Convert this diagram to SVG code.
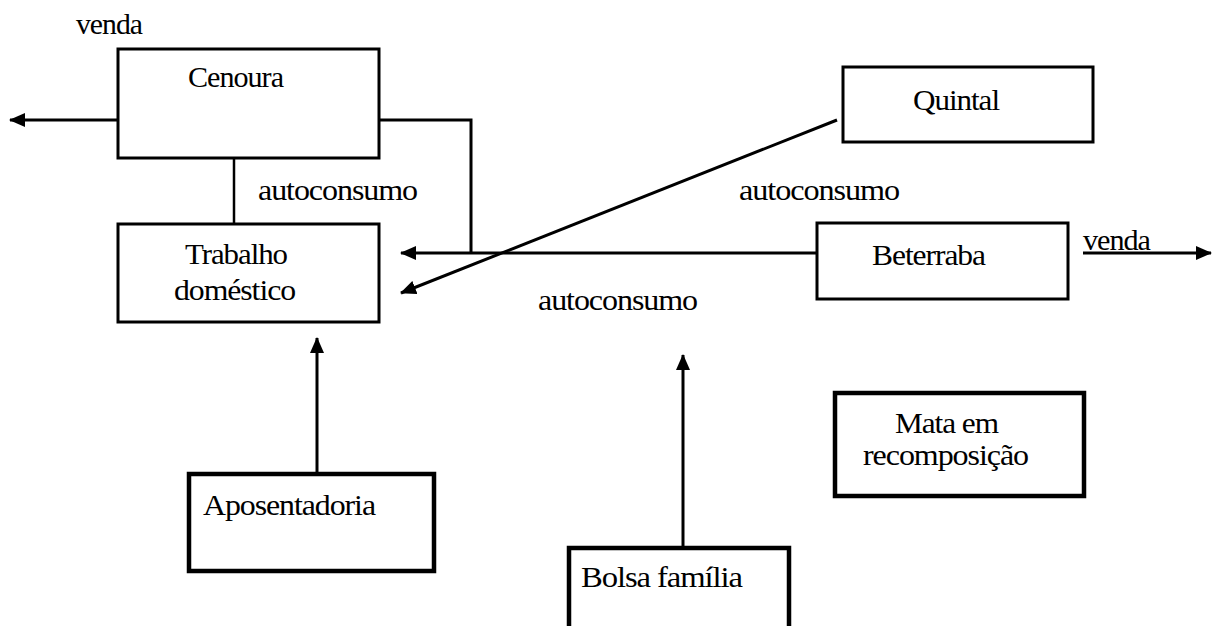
<svg xmlns="http://www.w3.org/2000/svg" width="1212" height="626" viewBox="0 0 1212 626">
<style>
text{font-family:"Liberation Serif","Times New Roman",serif;font-size:30px;fill:#000;letter-spacing:-1px}
.box{fill:#fff;stroke:#000;stroke-width:3}
.thick{stroke-width:4.5}
.conn{fill:none;stroke:#000;stroke-width:3}
</style>
<defs>
<marker id="ah" viewBox="0 0 16 14" refX="15" refY="7" markerWidth="16" markerHeight="14" markerUnits="userSpaceOnUse" orient="auto">
<path d="M0,0 L16,7 L0,14 Z" fill="#000"/>
</marker>
</defs>
<rect width="1212" height="626" fill="#fff"/>
<g id="connectors">
<line class="conn" x1="118" y1="120" x2="10" y2="120" marker-end="url(#ah)"/>
<line class="conn" x1="234" y1="158" x2="234" y2="224" style="stroke-width:2.5"/>
<polyline class="conn" points="379,120 471,120 471,253"/>
<line class="conn" x1="817" y1="253" x2="401" y2="253" marker-end="url(#ah)"/>
<line class="conn" x1="837" y1="120" x2="401" y2="293" marker-end="url(#ah)"/>
<line class="conn" x1="1083" y1="253" x2="1211" y2="253" marker-end="url(#ah)"/>
<line class="conn" x1="317" y1="474" x2="317" y2="338" marker-end="url(#ah)"/>
<line class="conn" x1="683" y1="548" x2="683" y2="355" marker-end="url(#ah)"/>
</g>
<g id="labels">
<text x="76" y="34" textLength="66" lengthAdjust="spacingAndGlyphs">venda</text>
<text x="258" y="200" textLength="159" lengthAdjust="spacingAndGlyphs">autoconsumo</text>
<text x="739" y="200" textLength="160" lengthAdjust="spacingAndGlyphs">autoconsumo</text>
<text x="538" y="310" textLength="159" lengthAdjust="spacingAndGlyphs">autoconsumo</text>
<text x="1083" y="250" textLength="67" lengthAdjust="spacingAndGlyphs">venda</text>
</g>
<g id="cenoura">
<rect class="box" x="118" y="49" width="261" height="109"/>
<text x="188" y="87" textLength="95" lengthAdjust="spacingAndGlyphs">Cenoura</text>
</g>
<g id="trabalho">
<rect class="box" x="118" y="224" width="261" height="98"/>
<text x="185" y="264" textLength="102" lengthAdjust="spacingAndGlyphs">Trabalho</text>
<text x="174" y="300" textLength="121" lengthAdjust="spacingAndGlyphs">doméstico</text>
</g>
<g id="quintal">
<rect class="box" x="843" y="67" width="250" height="75"/>
<text x="913" y="110" textLength="86" lengthAdjust="spacingAndGlyphs">Quintal</text>
</g>
<g id="beterraba">
<rect class="box" x="817" y="223" width="251" height="76"/>
<text x="872" y="265" textLength="113" lengthAdjust="spacingAndGlyphs">Beterraba</text>
</g>
<g id="aposentadoria">
<rect class="box thick" x="189" y="474" width="245" height="97"/>
<text x="203" y="515" textLength="172" lengthAdjust="spacingAndGlyphs">Aposentadoria</text>
</g>
<g id="bolsa">
<rect class="box thick" x="569" y="548" width="220" height="100"/>
<text x="581" y="587" textLength="161" lengthAdjust="spacingAndGlyphs">Bolsa família</text>
</g>
<g id="mata">
<rect class="box thick" x="835" y="393" width="249" height="103"/>
<text x="895" y="433" textLength="103" lengthAdjust="spacingAndGlyphs">Mata em</text>
<text x="863" y="465" textLength="165" lengthAdjust="spacingAndGlyphs">recomposição</text>
</g>
</svg>
